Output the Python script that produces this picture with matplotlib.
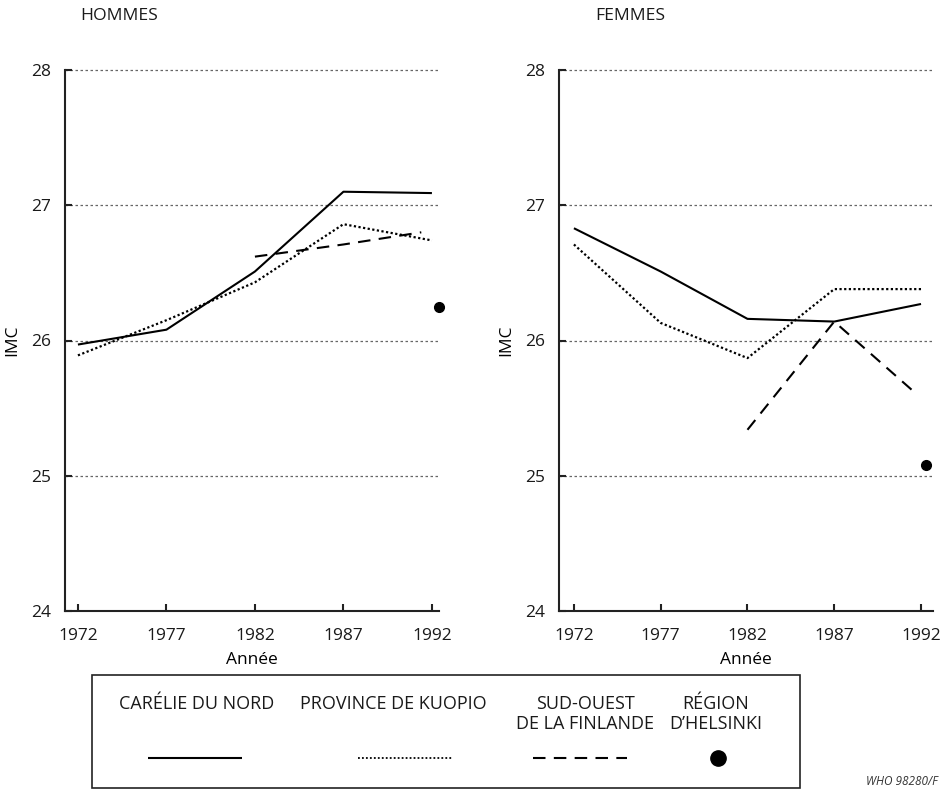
import matplotlib
matplotlib.use("Agg")
import matplotlib.pyplot as plt
from matplotlib.lines import Line2D
from matplotlib.patches import Rectangle

plt.rcParams['font.family'] = ['Open Sans', 'DejaVu Sans']
plt.rcParams['text.color'] = '#1a1a1a'

# ---- data ----
years = [1972, 1977, 1982, 1987, 1992]
tick_labels = ["1972", "1977", "1982", "1987", "1992"]
yticks = [24, 25, 26, 27, 28]

men_carelie = [25.97, 26.08, 26.51, 27.10, 27.09]
men_kuopio = [25.89, 26.15, 26.43, 26.86, 26.74]
men_sw_years = [1982, 1987, 1991.4]
men_sw = [26.62, 26.71, 26.80]
men_helsinki_year = [1992.4]
men_helsinki = [26.25]

women_carelie = [26.83, 26.51, 26.16, 26.14, 26.27]
women_kuopio = [26.71, 26.13, 25.87, 26.38, 26.38]
women_sw_years = [1982, 1987, 1991.6]
women_sw = [25.34, 26.14, 25.62]
women_helsinki_year = [1992.3]
women_helsinki = [25.08]

legend_names = ["CARÉLIE DU NORD", "PROVINCE DE KUOPIO",
                "SUD-OUEST\nDE LA FINLANDE", "RÉGION\nD\u2019HELSINKI"]

W, H = 947, 789
fig = plt.figure(figsize=(W / 100, H / 100), dpi=100)

solid_kw = dict(color='black', lw=1.5, linestyle='-', solid_capstyle='butt')
dot_kw = dict(color='black', lw=1.6, linestyle=(0, (1, 1.1)))
dash_kw = dict(color='black', lw=1.5, linestyle=(0, (6, 4)))
pt_kw = dict(color='black', marker='o', markersize=7, linestyle='none', clip_on=False)


def setup(ax, xlim):
    ax.set_xlim(*xlim)
    ax.set_ylim(24, 28)
    ax.set_yticks(yticks)
    ax.set_xticks(years)
    ax.set_xticklabels(tick_labels)
    for s in ['top', 'right']:
        ax.spines[s].set_visible(False)
    for s in ['left', 'bottom']:
        ax.spines[s].set_linewidth(1.5)
        ax.spines[s].set_color('#222222')
    ax.tick_params(direction='in', length=5, width=1.5, labelsize=12.5,
                   color='#222222', labelcolor='#1a1a1a')
    ax.tick_params(axis='x', pad=12)
    ax.tick_params(axis='y', pad=10)
    for yv in yticks[1:]:
        ax.axhline(yv, color='#666666', lw=0.9, linestyle=(0, (2, 2)), zorder=0,
                   clip_on=False)
    ax.set_xlabel("Année", fontsize=12.5, labelpad=6)
    ax.set_ylabel("IMC", fontsize=12.5, labelpad=8)


axL = fig.add_axes([65 / W, 1 - 611 / H, 374 / W, 541 / H])
setup(axL, (1971.27, 1992.4))
axL.plot(years, men_carelie, **solid_kw)
axL.plot(years, men_kuopio, **dot_kw)
axL.plot(men_sw_years, men_sw, **dash_kw)
axL.plot(men_helsinki_year, men_helsinki, **pt_kw)

axR = fig.add_axes([559 / W, 1 - 611 / H, 374 / W, 541 / H])
setup(axR, (1971.14, 1992.69))
axR.plot(years, women_carelie, **solid_kw)
axR.plot(years, women_kuopio, **dot_kw)
axR.plot(women_sw_years, women_sw, **dash_kw)
axR.plot(women_helsinki_year, women_helsinki, **pt_kw)

fig.text(80 / W, 1 - 16 / H, "HOMMES", fontsize=12.6, ha='left', va='center')
fig.text(595 / W, 1 - 16 / H, "FEMMES", fontsize=12.6, ha='left', va='center')

# ---- legend box ----
fig.patches.append(Rectangle((92 / W, 1 - 788 / H), (800 - 92) / W, (788 - 675) / H,
                             transform=fig.transFigure, fill=False,
                             edgecolor='#222222', lw=1.2))
centers = [197, 393, 585, 716]
for cx, name in zip(centers, legend_names):
    fig.text(cx / W, 1 - 695 / H, name, fontsize=13, ha='center', va='top',
             linespacing=1.12)

ly = 1 - 758 / H
fig.lines.append(Line2D([148 / W, 242 / W], [ly, ly], transform=fig.transFigure, **solid_kw))
fig.lines.append(Line2D([358 / W, 453 / W], [ly, ly], transform=fig.transFigure,
                        color='black', lw=1.3, linestyle=(0, (1, 1.2))))
fig.lines.append(Line2D([533 / W, 627 / W], [ly, ly], transform=fig.transFigure, **dash_kw))
fig.lines.append(Line2D([718 / W], [ly], transform=fig.transFigure,
                        color='black', marker='o', markersize=11, linestyle='none'))

fig.text(866 / W, 1 - 788 / H, "WHO 98280/F", fontsize=8.5, style='italic',
         ha='left', va='bottom', color='#333333')

fig.savefig("out.png", dpi=100)
